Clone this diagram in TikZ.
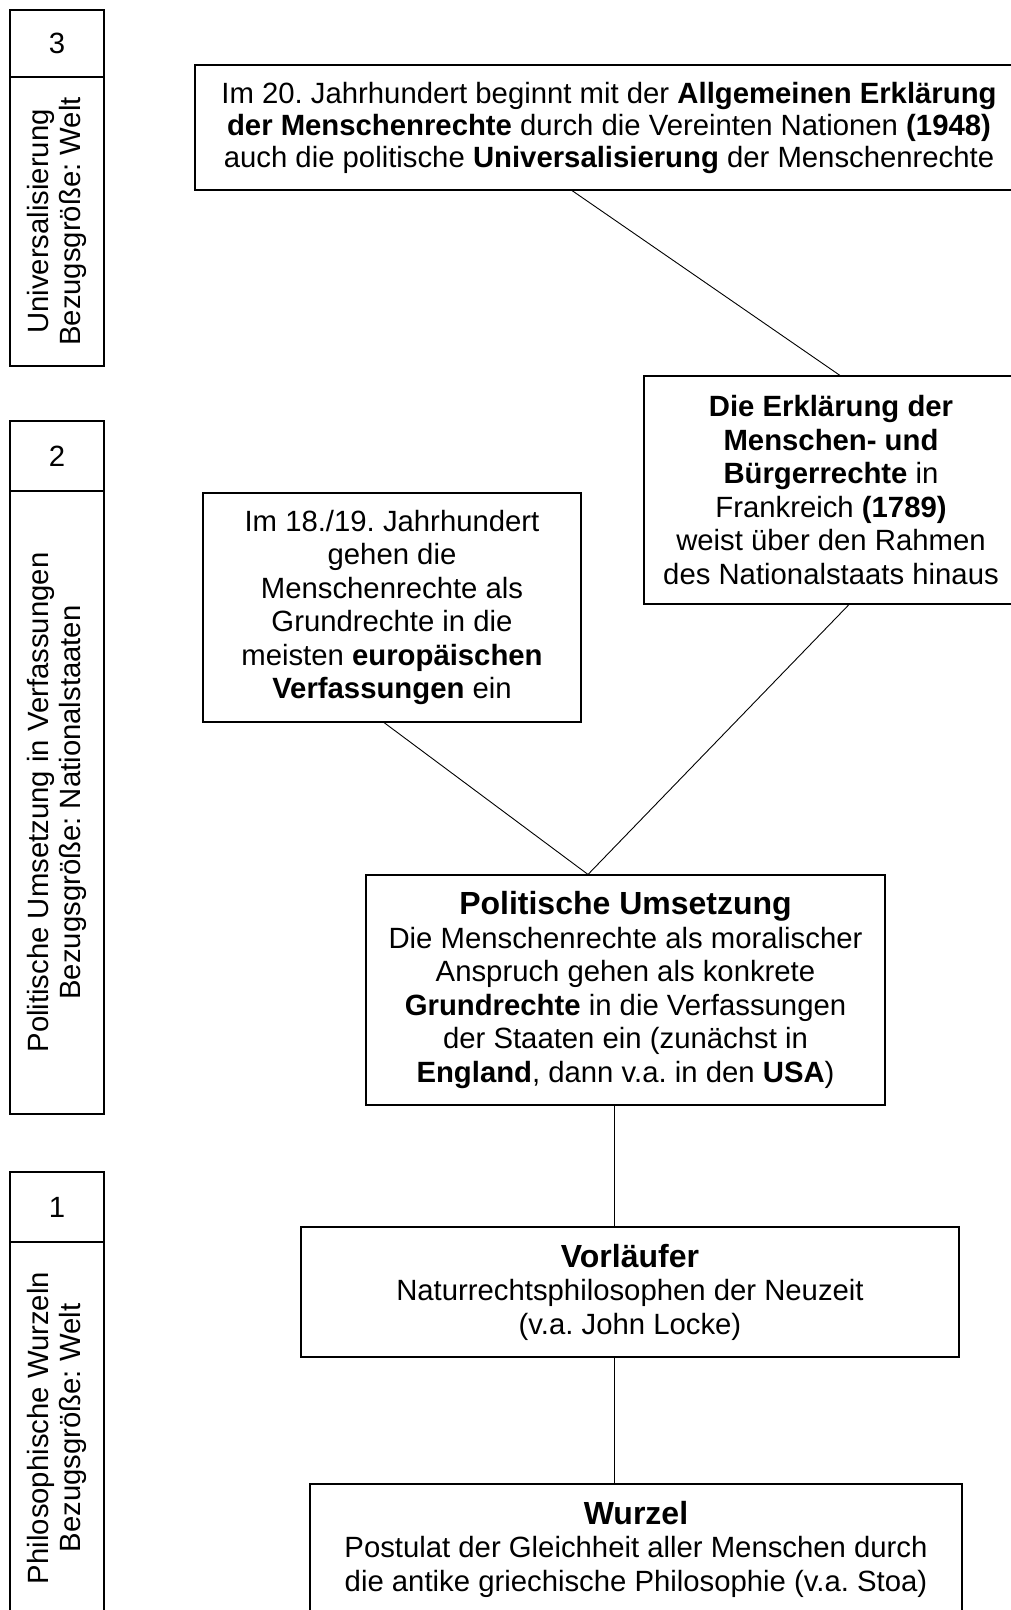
\documentclass[tikz,border=0pt]{standalone}
\usepackage{fontspec}
\setmainfont{Liberation Sans}
\usetikzlibrary{calc}
\frenchspacing
\begin{document}
\begin{tikzpicture}[x=1pt,y=-1pt,
  box/.style={draw=black, line width=1.1pt, align=center, inner sep=0pt,
              font=\fontsize{29.3}{33.5}\selectfont},
  levelnum/.style={box, minimum width=94pt, minimum height=#1},
  levelname/.style={box, rotate=90, minimum height=94pt, minimum width=#1,
              font=\fontsize{29.3}{32}\selectfont},
  link/.style={draw=black, line width=0.9pt}]
\useasboundingbox (0,0) rectangle (1011,1610);

% level column on the left
\node[levelnum=67pt]  (n3) at (57,43.5) {3};
\node[levelname=289pt] (u3) at (57,221.5) {Universalisierung\\Bezugsgröße: Welt};
\node[levelnum=70pt]  (n2) at (57,456) {2};
\node[levelname=623pt] (u2) at (57,802.5) {Politische Umsetzung in Verfassungen\\Bezugsgröße: Nationalstaaten};
\node[levelnum=70pt]  (n1) at (57,1207) {1};
\node[levelname=372pt] (u1) at (57,1428) {Philosophische Wurzeln\\Bezugsgröße: Welt};

% content boxes
\node[box, minimum width=828pt, minimum height=125pt,
      font=\fontsize{29.3}{32}\selectfont] (uni) at (609,127.5)
  {Im 20. Jahrhundert beginnt mit der \textbf{Allgemeinen Erklärung}\\
   \textbf{der Menschenrechte} durch die Vereinten Nationen \textbf{(1948)}\\
   auch die politische \textbf{Universalisierung} der Menschenrechte};

\node[box, minimum width=374pt, minimum height=228pt] (erk) at (831,490)
  {\textbf{Die Erklärung der}\\
   \textbf{Menschen- und}\\
   \textbf{Bürgerrechte} in\\
   Frankreich \textbf{(1789)}\\
   weist über den Rahmen\\
   des Nationalstaats hinaus};

\node[box, minimum width=378pt, minimum height=229pt] (eur) at (392,607.5)
  {Im 18./19. Jahrhundert\\
   gehen die\\
   Menschenrechte als\\
   Grundrechte in die\\
   meisten \textbf{europäischen}\\
   \textbf{Verfassungen} ein};

\node[box, minimum width=519pt, minimum height=230pt] (pol) at (625.5,990)
  {{\fontsize{32}{34}\selectfont\bfseries Politische Umsetzung}\\
   Die Menschenrechte als moralischer\\
   Anspruch gehen als konkrete\\
   \textbf{Grundrechte} in die Verfassungen\\
   der Staaten ein (zunächst in\\
   \textbf{England}, dann v.a. in den \textbf{USA})};

\node[box, minimum width=658pt, minimum height=130pt] (vor) at (630,1292)
  {{\fontsize{32}{35}\selectfont\bfseries Vorläufer}\\
   Naturrechtsphilosophen der Neuzeit\\
   (v.a. John Locke)};

\node[box, minimum width=652pt, minimum height=130pt] (wur) at (636,1549)
  {{\fontsize{32}{35}\selectfont\bfseries Wurzel}\\
   Postulat der Gleichheit aller Menschen durch\\
   die antike griechische Philosophie (v.a. Stoa)};

% connectors
\coordinate (apex) at ([xshift=-37.5pt]pol.north);
\draw[link] ([xshift=-37pt]uni.south) -- ([xshift=9pt]erk.north);
\draw[link] ([xshift=-8pt]eur.south) -- (apex);
\draw[link] ([xshift=18pt]erk.south) -- (apex);
\draw[link] ([xshift=-11.5pt]pol.south) -- ([xshift=-11.5pt]pol.south |- vor.north);
\draw[link] ([xshift=-11.5pt]pol.south |- vor.south) -- ([xshift=-11.5pt]pol.south |- wur.north);
\end{tikzpicture}
\end{document}
